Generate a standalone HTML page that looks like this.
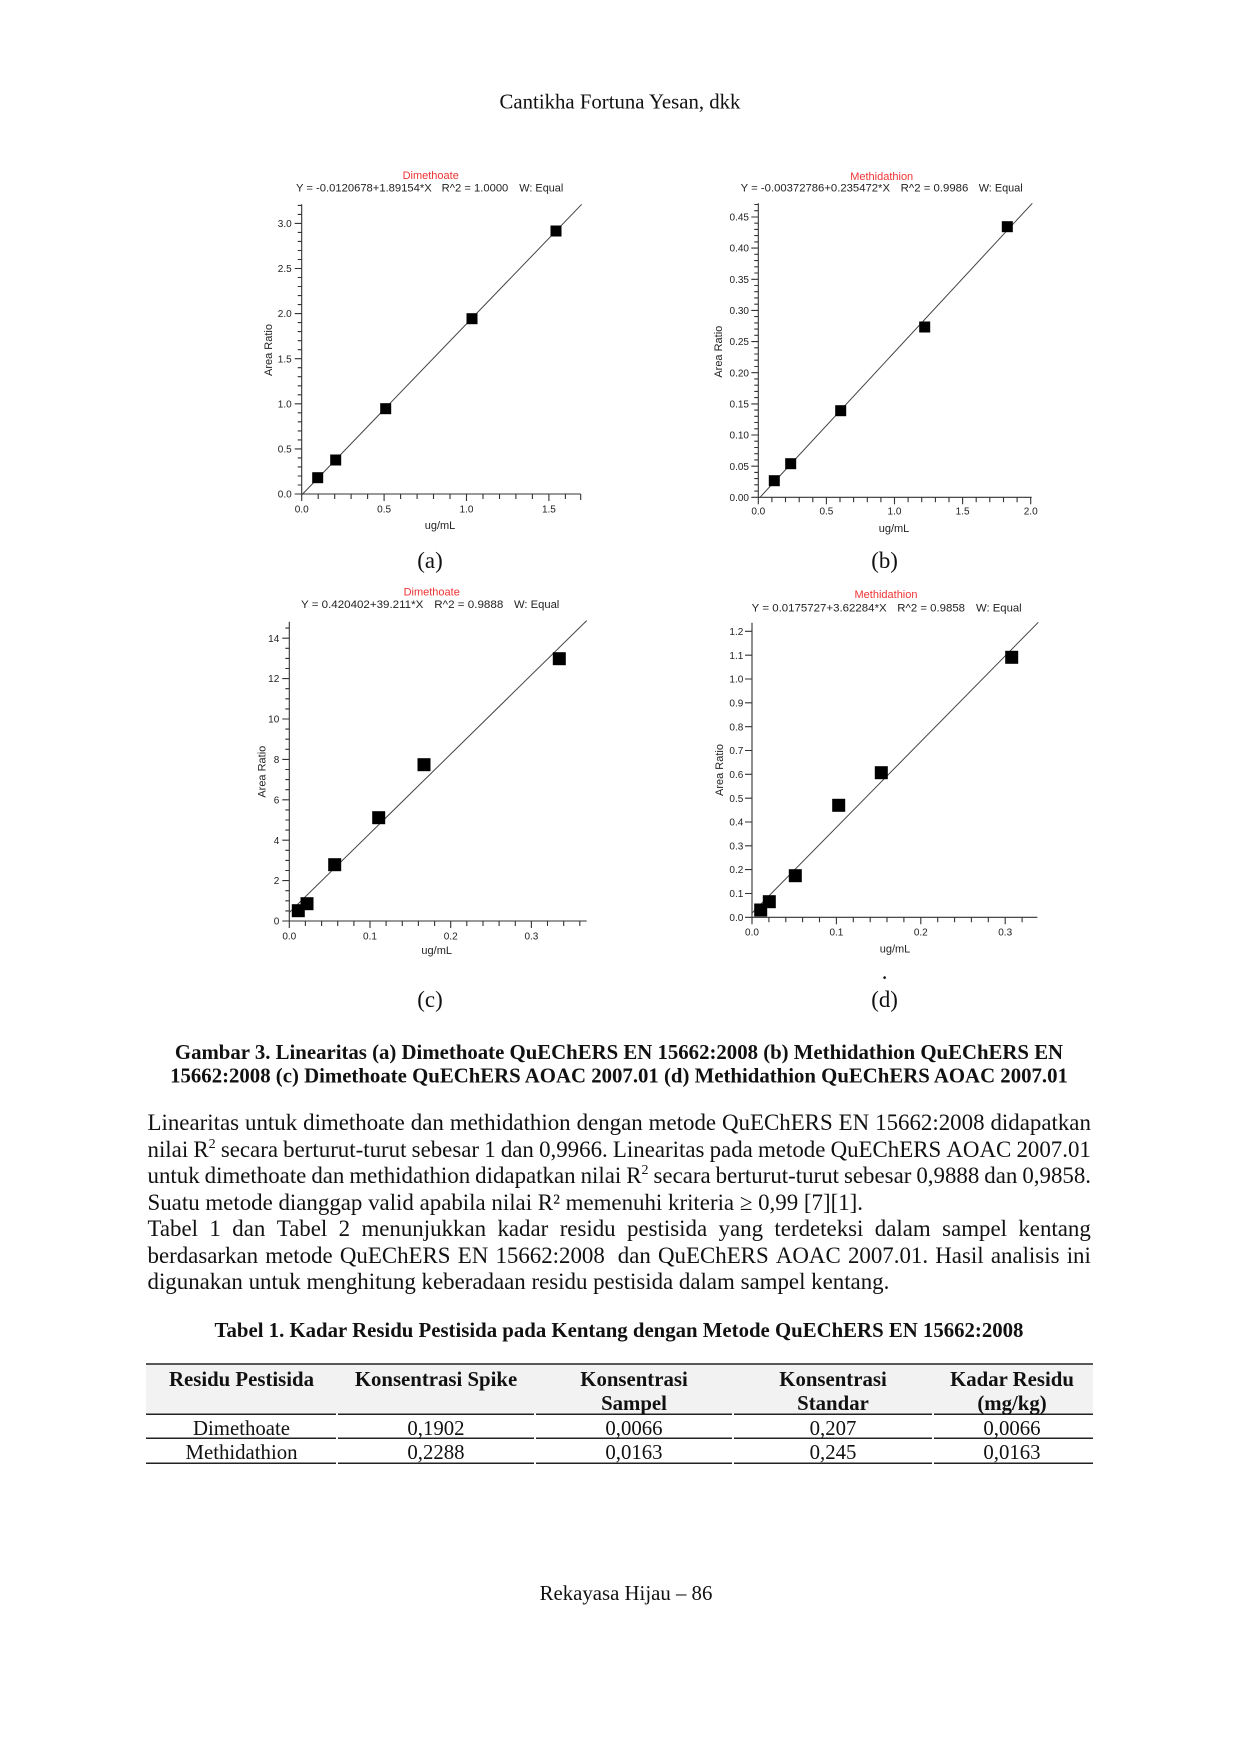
<!DOCTYPE html>
<html><head><meta charset="utf-8">
<style>
html,body{margin:0;padding:0;background:#fff;}
body{width:1240px;height:1754px;position:relative;overflow:hidden;}
svg{position:absolute;left:0;top:0;}
.ln{position:absolute;left:147.5px;width:943.5px;font-family:"Liberation Serif",serif;font-size:22.9px;line-height:26.5px;color:#111;white-space:nowrap;}
.ln.j{display:flex;justify-content:space-between;}
.ln sup{font-size:14px;line-height:0;vertical-align:9px;}
</style></head><body>
<svg width="1240" height="1754" viewBox="0 0 1240 1754" xmlns="http://www.w3.org/2000/svg">
<g font-family="Liberation Serif, serif" fill="#111">
<text x="620" y="108.5" font-size="20.8" text-anchor="middle">Cantikha Fortuna Yesan, dkk</text>
<text x="430" y="568" font-size="22.9" text-anchor="middle">(a)</text>
<text x="884.6" y="568" font-size="22.9" text-anchor="middle">(b)</text>
<text x="884.6" y="979" font-size="22.9" text-anchor="middle">.</text>
<text x="430" y="1007" font-size="22.9" text-anchor="middle">(c)</text>
<text x="884.6" y="1007" font-size="22.9" text-anchor="middle">(d)</text>
<text x="619" y="1059" font-size="20.8" font-weight="bold" text-anchor="middle">Gambar 3. Linearitas (a) Dimethoate QuEChERS EN 15662:2008 (b) Methidathion QuEChERS EN</text>
<text x="619" y="1082.5" font-size="20.8" font-weight="bold" text-anchor="middle">15662:2008 (c) Dimethoate QuEChERS AOAC 2007.01 (d) Methidathion QuEChERS AOAC 2007.01</text>
<text x="619" y="1337" font-size="20.8" font-weight="bold" text-anchor="middle">Tabel 1. Kadar Residu Pestisida pada Kentang dengan Metode QuEChERS EN 15662:2008</text>
<text x="626" y="1600" font-size="20.8" text-anchor="middle">Rekayasa Hijau – 86</text>
</g>

<!-- Table -->
<rect x="146" y="1364" width="947" height="50" fill="#f2f2f2"/>
<g stroke="#222" stroke-width="1.5">
<path d="M146 1364H1093"/>
<path d="M146 1414.3H336M338 1414.3H534M536 1414.3H732M734 1414.3H932M934 1414.3H1093"/>
<path d="M146 1438.3H336M338 1438.3H534M536 1438.3H732M734 1438.3H932M934 1438.3H1093"/>
<path d="M146 1463.3H336M338 1463.3H534M536 1463.3H732M734 1463.3H932M934 1463.3H1093"/>
</g>
<g font-family="Liberation Serif, serif" font-size="20.8" fill="#111" text-anchor="middle">
<g font-weight="bold">
<text x="241.5" y="1386">Residu Pestisida</text>
<text x="436" y="1386">Konsentrasi Spike</text>
<text x="634" y="1386">Konsentrasi</text>
<text x="634" y="1410">Sampel</text>
<text x="833" y="1386">Konsentrasi</text>
<text x="833" y="1410">Standar</text>
<text x="1012" y="1386">Kadar Residu</text>
<text x="1012" y="1410">(mg/kg)</text>
</g>
<text x="241.5" y="1435">Dimethoate</text>
<text x="436" y="1435">0,1902</text>
<text x="634" y="1435">0,0066</text>
<text x="833" y="1435">0,207</text>
<text x="1012" y="1435">0,0066</text>
<text x="241.5" y="1459">Methidathion</text>
<text x="436" y="1459">0,2288</text>
<text x="634" y="1459">0,0163</text>
<text x="833" y="1459">0,245</text>
<text x="1012" y="1459">0,0163</text>
</g>

<g font-family="Liberation Sans, Arial, sans-serif">

<!-- Chart A -->
<text x="430.7" y="179" font-size="11" fill="#ee3333" text-anchor="middle">Dimethoate</text>
<g font-size="11" fill="#222">
<text x="296" y="191.6" textLength="135.7" lengthAdjust="spacingAndGlyphs">Y = -0.0120678+1.89154*X</text>
<text x="441.7" y="191.6" textLength="66.6" lengthAdjust="spacingAndGlyphs">R^2 = 1.0000</text>
<text x="519.3" y="191.6" textLength="44" lengthAdjust="spacingAndGlyphs">W: Equal</text>
</g>
<g stroke="#333" stroke-width="1.1" fill="none">
<path d="M301.7 204.3V494H580.7"/>
<path d="M294.7 494h7M297.7 485h4M297.7 476h4M297.7 466.9h4M297.7 457.9h4M294.7 448.9h7M297.7 439.9h4M297.7 430.9h4M297.7 421.8h4M297.7 412.8h4M294.7 403.8h7M297.7 394.8h4M297.7 385.8h4M297.7 376.7h4M297.7 367.7h4M294.7 358.7h7M297.7 349.7h4M297.7 340.7h4M297.7 331.6h4M297.7 322.6h4M294.7 313.6h7M297.7 304.6h4M297.7 295.6h4M297.7 286.5h4M297.7 277.5h4M294.7 268.5h7M297.7 259.5h4M297.7 250.5h4M297.7 241.4h4M297.7 232.4h4M294.7 223.4h7M297.7 214.4h4M297.7 205.4h4"/>
<path d="M301.7 494v7M318.2 494v5M334.7 494v5M351.1 494v5M367.6 494v5M384.1 494v7M400.6 494v5M417.1 494v5M433.5 494v5M450 494v5M466.5 494v7M483 494v5M499.5 494v5M515.9 494v5M532.4 494v5M548.9 494v7M565.4 494v5M580.7 494v6"/>
<path d="M301.7 495L581.7 204.3" stroke="#444" stroke-width="1"/>
</g>
<g font-size="10" fill="#222" text-anchor="end">
<text x="291.7" y="497.6">0.0</text><text x="291.7" y="452.5">0.5</text><text x="291.7" y="407.4">1.0</text><text x="291.7" y="362.3">1.5</text><text x="291.7" y="317.2">2.0</text><text x="291.7" y="272.1">2.5</text><text x="291.7" y="227">3.0</text>
</g>
<g font-size="10" fill="#222" text-anchor="middle">
<text x="301.7" y="512.6">0.0</text><text x="384.1" y="512.6">0.5</text><text x="466.5" y="512.6">1.0</text><text x="548.9" y="512.6">1.5</text>
</g>
<text x="440" y="529" font-size="11" fill="#222" text-anchor="middle">ug/mL</text>
<text transform="translate(271.9 350) rotate(-90)" font-size="11" fill="#222" text-anchor="middle">Area Ratio</text>
<g fill="#000">
<rect x="312.2" y="472.2" width="11" height="11"/><rect x="330.2" y="454.5" width="11" height="11"/><rect x="380.2" y="403.2" width="11" height="11"/><rect x="466.5" y="313.2" width="11" height="11"/><rect x="550.5" y="225.5" width="11" height="11"/>
</g>

<!-- Chart B -->
<text x="881.7" y="180" font-size="11" fill="#ee3333" text-anchor="middle">Methidathion</text>
<g font-size="11" fill="#222">
<text x="740.7" y="191.6" textLength="149.3" lengthAdjust="spacingAndGlyphs">Y = -0.00372786+0.235472*X</text>
<text x="900.7" y="191.6" textLength="67.6" lengthAdjust="spacingAndGlyphs">R^2 = 0.9986</text>
<text x="978.7" y="191.6" textLength="44" lengthAdjust="spacingAndGlyphs">W: Equal</text>
</g>
<g stroke="#333" stroke-width="1.1" fill="none">
<path d="M758.3 203.3V497.3H1031.7"/>
<path d="M751.3 497.3h7M754.3 491.1h4M754.3 484.8h4M754.3 478.6h4M754.3 472.4h4M751.3 466.2h7M754.3 459.9h4M754.3 453.7h4M754.3 447.5h4M754.3 441.2h4M751.3 435h7M754.3 428.8h4M754.3 422.5h4M754.3 416.3h4M754.3 410.1h4M751.3 403.9h7M754.3 397.6h4M754.3 391.4h4M754.3 385.2h4M754.3 378.9h4M751.3 372.7h7M754.3 366.5h4M754.3 360.2h4M754.3 354h4M754.3 347.8h4M751.3 341.6h7M754.3 335.3h4M754.3 329.1h4M754.3 322.9h4M754.3 316.6h4M751.3 310.4h7M754.3 304.2h4M754.3 297.9h4M754.3 291.7h4M754.3 285.5h4M751.3 279.3h7M754.3 273h4M754.3 266.8h4M754.3 260.6h4M754.3 254.3h4M751.3 248.1h7M754.3 241.9h4M754.3 235.6h4M754.3 229.4h4M754.3 223.2h4M751.3 217h7M754.3 210.7h4M754.3 204.5h4"/>
<path d="M758.3 497.3v7M771.9 497.3v5M785.5 497.3v5M799.2 497.3v5M812.8 497.3v5M826.4 497.3v7M840 497.3v5M853.6 497.3v5M867.3 497.3v5M880.9 497.3v5M894.5 497.3v7M908.1 497.3v5M921.7 497.3v5M935.4 497.3v5M949 497.3v5M962.6 497.3v7M976.2 497.3v5M989.8 497.3v5M1003.5 497.3v5M1017.1 497.3v5M1030.7 497.3v7"/>
<path d="M760 497.3L1032.3 203.3" stroke="#444" stroke-width="1"/>
</g>
<g font-size="10" fill="#222" text-anchor="end">
<text x="749" y="500.9">0.00</text><text x="749" y="469.8">0.05</text><text x="749" y="438.6">0.10</text><text x="749" y="407.5">0.15</text><text x="749" y="376.3">0.20</text><text x="749" y="345.2">0.25</text><text x="749" y="314">0.30</text><text x="749" y="282.9">0.35</text><text x="749" y="251.7">0.40</text><text x="749" y="220.6">0.45</text>
</g>
<g font-size="10" fill="#222" text-anchor="middle">
<text x="758.3" y="514.6">0.0</text><text x="826.4" y="514.6">0.5</text><text x="894.5" y="514.6">1.0</text><text x="962.6" y="514.6">1.5</text><text x="1030.7" y="514.6">2.0</text>
</g>
<text x="894" y="532" font-size="11" fill="#222" text-anchor="middle">ug/mL</text>
<text transform="translate(722.2 351.7) rotate(-90)" font-size="11" fill="#222" text-anchor="middle">Area Ratio</text>
<g fill="#000">
<rect x="768.8" y="475.2" width="11" height="11"/><rect x="785.2" y="458.2" width="11" height="11"/><rect x="835.2" y="405.2" width="11" height="11"/><rect x="919.2" y="321.5" width="11" height="11"/><rect x="1001.8" y="221.2" width="11" height="11"/>
</g>

<!-- Chart C -->
<text x="431.7" y="595.7" font-size="11" fill="#ee3333" text-anchor="middle">Dimethoate</text>
<g font-size="11" fill="#222">
<text x="301" y="608.2" textLength="122.3" lengthAdjust="spacingAndGlyphs">Y = 0.420402+39.211*X</text>
<text x="434.3" y="608.2" textLength="69" lengthAdjust="spacingAndGlyphs">R^2 = 0.9888</text>
<text x="514" y="608.2" textLength="45.3" lengthAdjust="spacingAndGlyphs">W: Equal</text>
</g>
<g stroke="#333" stroke-width="1.1" fill="none">
<path d="M289.3 621.7V921H586.7"/>
<path d="M282.3 921h7M285.3 910.9h4M285.3 900.8h4M285.3 890.7h4M282.3 880.6h7M285.3 870.5h4M285.3 860.4h4M285.3 850.3h4M282.3 840.2h7M285.3 830.1h4M285.3 820h4M285.3 809.9h4M282.3 799.8h7M285.3 789.7h4M285.3 779.6h4M285.3 769.5h4M282.3 759.4h7M285.3 749.3h4M285.3 739.2h4M285.3 729.1h4M282.3 719h7M285.3 708.9h4M285.3 698.8h4M285.3 688.7h4M282.3 678.6h7M285.3 668.5h4M285.3 658.4h4M285.3 648.3h4M282.3 638.2h7M285.3 628.1h4"/>
<path d="M289.3 921v7M305.4 921v5M321.6 921v5M337.7 921v5M353.9 921v5M370 921v7M386.1 921v5M402.3 921v5M418.4 921v5M434.6 921v5M450.7 921v7M466.8 921v5M483 921v5M499.1 921v5M515.3 921v5M531.4 921v7M547.5 921v5M563.7 921v5M579.8 921v5"/>
<path d="M289.3 912.5L586.7 620.6" stroke="#444" stroke-width="1"/>
</g>
<g font-size="10" fill="#222" text-anchor="end">
<text x="279.3" y="924.6">0</text><text x="279.3" y="884.2">2</text><text x="279.3" y="843.8">4</text><text x="279.3" y="803.4">6</text><text x="279.3" y="763">8</text><text x="279.3" y="722.6">10</text><text x="279.3" y="682.2">12</text><text x="279.3" y="641.8">14</text>
</g>
<g font-size="10" fill="#222" text-anchor="middle">
<text x="289.3" y="939.3">0.0</text><text x="370" y="939.3">0.1</text><text x="450.7" y="939.3">0.2</text><text x="531.4" y="939.3">0.3</text>
</g>
<text x="436.7" y="954" font-size="11" fill="#222" text-anchor="middle">ug/mL</text>
<text transform="translate(265.6 771.7) rotate(-90)" font-size="11" fill="#222" text-anchor="middle">Area Ratio</text>
<g fill="#000">
<rect x="291.8" y="904.2" width="13" height="13"/><rect x="300.5" y="897.2" width="13" height="13"/><rect x="328.2" y="858.2" width="13" height="13"/><rect x="372.2" y="811.2" width="13" height="13"/><rect x="417.5" y="758.2" width="13" height="13"/><rect x="552.8" y="652.2" width="13" height="13"/>
</g>

<!-- Chart D -->
<text x="886" y="598" font-size="11" fill="#ee3333" text-anchor="middle">Methidathion</text>
<g font-size="11" fill="#222">
<text x="751.7" y="611.3" textLength="135" lengthAdjust="spacingAndGlyphs">Y = 0.0175727+3.62284*X</text>
<text x="897.3" y="611.3" textLength="67.7" lengthAdjust="spacingAndGlyphs">R^2 = 0.9858</text>
<text x="976" y="611.3" textLength="45.7" lengthAdjust="spacingAndGlyphs">W: Equal</text>
</g>
<g stroke="#333" stroke-width="1.1" fill="none">
<path d="M752 622.7V917.3H1037.3"/>
<path d="M745 917.3h7M745 893.5h7M745 869.6h7M745 845.8h7M745 822h7M745 798.2h7M745 774.3h7M745 750.5h7M745 726.7h7M745 702.8h7M745 679h7M745 655.2h7M745 631.3h7"/>
<path d="M752 917.3v7M768.9 917.3v5M785.8 917.3v5M802.6 917.3v5M819.5 917.3v5M836.4 917.3v7M853.3 917.3v5M870.2 917.3v5M887 917.3v5M903.9 917.3v5M920.8 917.3v7M937.7 917.3v5M954.6 917.3v5M971.4 917.3v5M988.3 917.3v5M1005.2 917.3v7M1022.1 917.3v5"/>
<path d="M752 913.1L1038.3 622.3" stroke="#444" stroke-width="1"/>
</g>
<g font-size="10" fill="#222" text-anchor="end">
<text x="743.3" y="920.9">0.0</text><text x="743.3" y="897.1">0.1</text><text x="743.3" y="873.2">0.2</text><text x="743.3" y="849.4">0.3</text><text x="743.3" y="825.6">0.4</text><text x="743.3" y="801.8">0.5</text><text x="743.3" y="777.9">0.6</text><text x="743.3" y="754.1">0.7</text><text x="743.3" y="730.3">0.8</text><text x="743.3" y="706.4">0.9</text><text x="743.3" y="682.6">1.0</text><text x="743.3" y="658.8">1.1</text><text x="743.3" y="634.9">1.2</text>
</g>
<g font-size="10" fill="#222" text-anchor="middle">
<text x="752" y="935.3">0.0</text><text x="836.4" y="935.3">0.1</text><text x="920.8" y="935.3">0.2</text><text x="1005.2" y="935.3">0.3</text>
</g>
<text x="895" y="952.3" font-size="11" fill="#222" text-anchor="middle">ug/mL</text>
<text transform="translate(722.9 770) rotate(-90)" font-size="11" fill="#222" text-anchor="middle">Area Ratio</text>
<g fill="#000">
<rect x="754.2" y="903.5" width="13" height="13"/><rect x="762.8" y="895.2" width="13" height="13"/><rect x="788.8" y="869.2" width="13" height="13"/><rect x="832.2" y="798.8" width="13" height="13"/><rect x="874.8" y="766.2" width="13" height="13"/><rect x="1005.2" y="650.8" width="13" height="13"/>
</g>
</g>
</svg>

<div class="ln j" style="top:1110px"><span>Linearitas</span><span>untuk</span><span>dimethoate</span><span>dan</span><span>methidathion</span><span>dengan</span><span>metode</span><span>QuEChERS</span><span>EN</span><span>15662:2008</span><span>didapatkan</span></div>
<div class="ln j" style="top:1136.5px"><span>nilai</span><span>R<sup>2</sup></span><span>secara</span><span>berturut-turut</span><span>sebesar</span><span>1</span><span>dan</span><span>0,9966.</span><span>Linearitas</span><span>pada</span><span>metode</span><span>QuEChERS</span><span>AOAC</span><span>2007.01</span></div>
<div class="ln j" style="top:1163px"><span>untuk</span><span>dimethoate</span><span>dan</span><span>methidathion</span><span>didapatkan</span><span>nilai</span><span>R<sup>2</sup></span><span>secara</span><span>berturut-turut</span><span>sebesar</span><span>0,9888</span><span>dan</span><span>0,9858.</span></div>
<div class="ln" style="top:1189.5px">Suatu metode dianggap valid apabila nilai R² memenuhi kriteria ≥ 0,99 [7][1].</div>
<div class="ln j" style="top:1216px"><span>Tabel</span><span>1</span><span>dan</span><span>Tabel</span><span>2</span><span>menunjukkan</span><span>kadar</span><span>residu</span><span>pestisida</span><span>yang</span><span>terdeteksi</span><span>dalam</span><span>sampel</span><span>kentang</span></div>
<div class="ln j" style="top:1242.5px"><span>berdasarkan</span><span>metode</span><span>QuEChERS</span><span>EN</span><span>15662:2008&nbsp;</span><span>dan</span><span>QuEChERS</span><span>AOAC</span><span>2007.01.</span><span>Hasil</span><span>analisis</span><span>ini</span></div>
<div class="ln" style="top:1269px">digunakan untuk menghitung keberadaan residu pestisida dalam sampel kentang.</div>
</body></html>
